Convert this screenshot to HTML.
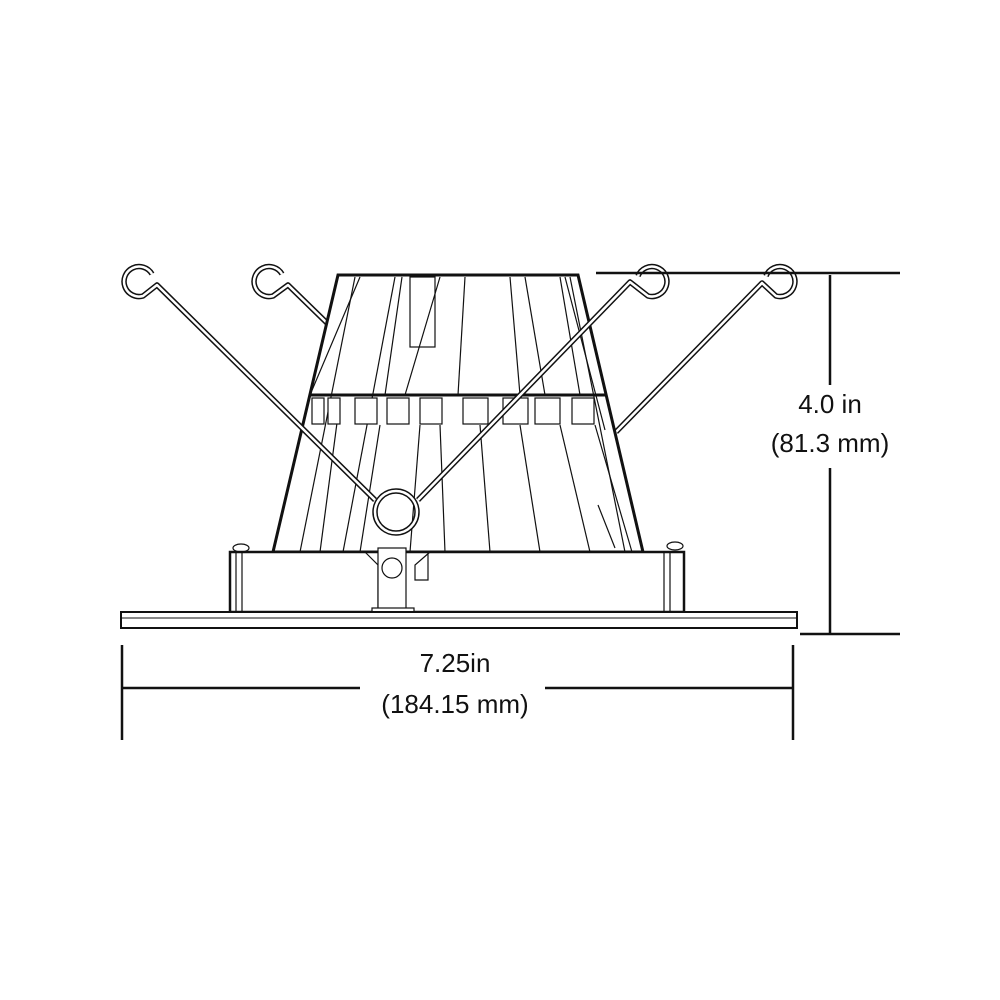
<!DOCTYPE html>
<html><head><style>
html,body{margin:0;padding:0;background:#fff;}
svg{display:block}
text{font-family:"Liberation Sans",sans-serif;font-size:26px;fill:#111;text-anchor:middle}
</style></head><body>
<svg width="1000" height="1000" viewBox="0 0 1000 1000" xmlns="http://www.w3.org/2000/svg">
<g fill="none" stroke-linejoin="round">
<!-- back wires (behind cone) -->
<path d="M282 274 A15 15 0 1 0 273 296 L288 285 L327 323" stroke="#111" stroke-width="5.5"/>
<path d="M282 274 A15 15 0 1 0 273 296 L288 285 L327 323" stroke="#fff" stroke-width="2.5"/>
<path d="M766 276 A15 15 0 1 1 776 296 L762 283 L616 432" stroke="#111" stroke-width="5.5"/>
<path d="M766 276 A15 15 0 1 1 776 296 L762 283 L616 432" stroke="#fff" stroke-width="2.5"/>
</g>
<!-- cone -->
<polygon points="338,275 578,275 643,552 273,552" fill="#fff" stroke="#111" stroke-width="3"/>
<g stroke="#111" stroke-width="1.2" fill="none">
<line x1="355" y1="277" x2="300" y2="552"/>
<line x1="360" y1="277" x2="310" y2="395"/>
<line x1="395" y1="277" x2="343" y2="552"/>
<line x1="402" y1="277" x2="385" y2="395"/>
<line x1="440" y1="277" x2="405" y2="395"/>
<line x1="465" y1="277" x2="458" y2="395"/>
<line x1="510" y1="277" x2="520" y2="395"/>
<line x1="525" y1="277" x2="545" y2="395"/>
<line x1="560" y1="277" x2="580" y2="395"/>
<line x1="565" y1="277" x2="605" y2="430"/>
<line x1="570" y1="277" x2="625" y2="552"/>
<rect x="410" y="277" width="25" height="70"/>
<line x1="340" y1="400" x2="320" y2="552"/>
<line x1="380" y1="425" x2="360" y2="552"/>
<line x1="420" y1="425" x2="410" y2="552"/>
<line x1="440" y1="425" x2="445" y2="552"/>
<line x1="480" y1="425" x2="490" y2="552"/>
<line x1="520" y1="425" x2="540" y2="552"/>
<line x1="560" y1="425" x2="590" y2="552"/>
<line x1="595" y1="425" x2="632" y2="552"/>
<line x1="598" y1="505" x2="615" y2="548"/>
</g>
<!-- band -->
<line x1="310" y1="395" x2="605" y2="395" stroke="#111" stroke-width="3"/>
<g stroke="#111" stroke-width="1.2" fill="#fff">
<rect x="312" y="398" width="12" height="26"/><rect x="328" y="398" width="12" height="26"/>
<rect x="355" y="398" width="22" height="26"/><rect x="387" y="398" width="22" height="26"/>
<rect x="420" y="398" width="22" height="26"/><rect x="463" y="398" width="25" height="26"/>
<rect x="503" y="398" width="25" height="26"/><rect x="535" y="398" width="25" height="26"/>
<rect x="572" y="398" width="22" height="26"/>
</g>
<!-- base box -->
<rect x="230" y="552" width="454" height="60" fill="#fff" stroke="#111" stroke-width="2.5"/>
<g stroke="#111" stroke-width="1.2" fill="none">
<line x1="236" y1="552" x2="236" y2="612"/><line x1="242" y1="552" x2="242" y2="612"/>
<line x1="664" y1="552" x2="664" y2="612"/><line x1="670" y1="552" x2="670" y2="612"/>
<ellipse cx="241" cy="548" rx="8" ry="4"/><ellipse cx="675" cy="546" rx="8" ry="4"/>
<path d="M365 552 L378 565 L378 612 M430 552 L415 565 L415 580 L428 580 L428 552"/>
<rect x="378" y="548" width="28" height="64" fill="#fff"/>
<circle cx="392" cy="568" r="10" fill="#fff"/>
<rect x="372" y="608" width="42" height="4" fill="#fff"/>
</g>
<!-- trim plate -->
<rect x="121" y="612" width="676" height="16" fill="#fff" stroke="#111" stroke-width="2"/>
<line x1="121" y1="618" x2="797" y2="618" stroke="#111" stroke-width="1"/>
<!-- front wires -->
<g fill="none" stroke-linejoin="round">
<path d="M152 274 A15 15 0 1 0 143 296 L157 285 L375 500" stroke="#111" stroke-width="5.5"/>
<path d="M152 274 A15 15 0 1 0 143 296 L157 285 L375 500" stroke="#fff" stroke-width="2.5"/>
<path d="M638 276 A15 15 0 1 1 648 296 L630 282 L418 500" stroke="#111" stroke-width="5.5"/>
<path d="M638 276 A15 15 0 1 1 648 296 L630 282 L418 500" stroke="#fff" stroke-width="2.5"/>
<circle cx="396" cy="512" r="21" stroke="#111" stroke-width="5.5"/><circle cx="396" cy="512" r="21" stroke="#fff" stroke-width="2.5"/>
</g>
<!-- dimensions -->
<g stroke="#111" stroke-width="2.5">
<line x1="596" y1="273" x2="900" y2="273"/>
<line x1="800" y1="634" x2="900" y2="634"/>
<line x1="830" y1="275" x2="830" y2="385"/>
<line x1="830" y1="468" x2="830" y2="634"/>
<line x1="122" y1="645" x2="122" y2="740"/>
<line x1="793" y1="645" x2="793" y2="740"/>
<line x1="122" y1="688" x2="360" y2="688"/>
<line x1="545" y1="688" x2="793" y2="688"/>
</g>
<text x="830" y="413">4.0 in</text>
<text x="830" y="452">(81.3 mm)</text>
<text x="455" y="672">7.25in</text>
<text x="455" y="713">(184.15 mm)</text>
</svg>
</body></html>
